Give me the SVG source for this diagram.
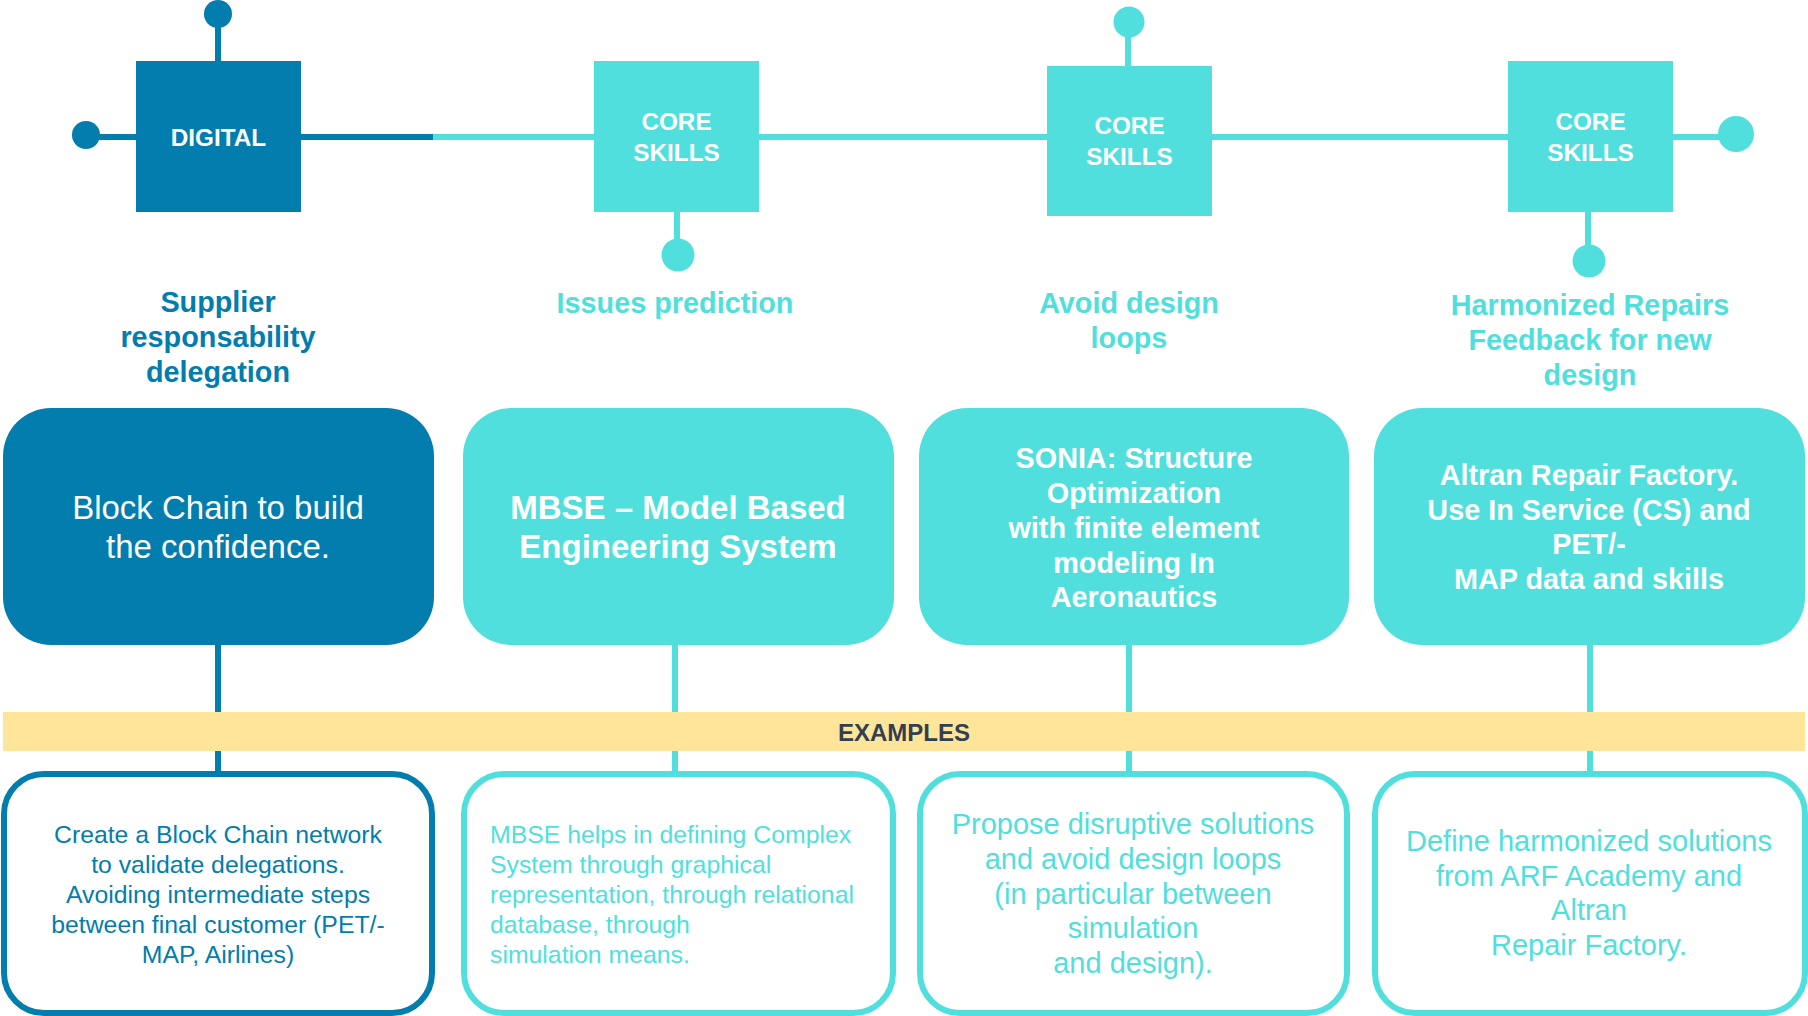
<svg xmlns="http://www.w3.org/2000/svg" width="1808" height="1016" viewBox="0 0 1808 1016">
<style>
text{font-family:"Liberation Sans",Arial,sans-serif;text-anchor:middle}
text.ls{text-anchor:start}
.b{font-weight:bold}
.dk{fill:#027DAE}
.cy{fill:#50DFDD}
.wt{fill:#FFFFFF}
.ldk{stroke:#027DAE;stroke-width:6;fill:none}
.lcy{stroke:#50DFDD;stroke-width:6;fill:none}
.obdk{fill:#FFFFFF;stroke:#027DAE;stroke-width:6}
.obcy{fill:#FFFFFF;stroke:#50DFDD;stroke-width:6}
.sq{font-size:24.3px;font-weight:bold}
.hd{font-size:28.8px;font-weight:bold}
.big{font-size:33px}
.mid{font-size:28.8px;font-weight:bold}
.sm{font-size:24.8px}
.sm2{font-size:29px}
</style>
<rect width="1808" height="1016" fill="#FFFFFF"/>
<g id="connectors">
<line class="ldk" x1="86" y1="137" x2="434" y2="137"/>
<line class="lcy" x1="433" y1="137" x2="1736" y2="137"/>
<line class="ldk" x1="218" y1="14" x2="218" y2="62"/>
<line class="lcy" x1="677" y1="211" x2="677" y2="255"/>
<line class="lcy" x1="1128" y1="22" x2="1128" y2="67"/>
<line class="lcy" x1="1588" y1="211" x2="1588" y2="261"/>
<line class="ldk" x1="218" y1="640" x2="218" y2="774"/>
<line class="lcy" x1="675" y1="640" x2="675" y2="774"/>
<line class="lcy" x1="1129" y1="640" x2="1129" y2="774"/>
<line class="lcy" x1="1590" y1="640" x2="1590" y2="774"/>
<circle class="dk" cx="218" cy="14" r="14"/>
<circle class="dk" cx="86" cy="135" r="14"/>
<circle class="cy" cx="678" cy="255" r="16.5"/>
<circle class="cy" cx="1129" cy="22" r="15.5"/>
<circle class="cy" cx="1589" cy="261" r="16.5"/>
<circle class="cy" cx="1736" cy="134" r="18"/>
</g>
<g id="band">
<rect x="3" y="712" width="1802" height="39" fill="#FFE599"/>
<text x="904" y="741" font-size="24" class="b" fill="#333F50">EXAMPLES</text>
</g>
<g id="sq-digital">
<rect x="136" y="61" width="165" height="151" class="dk"/>
<text x="218.5" y="146" class="sq wt">DIGITAL</text>
</g>
<g id="sq-core1">
<rect x="594" y="61" width="165" height="151" class="cy"/>
<text x="676.5" y="130" class="sq wt">CORE</text>
<text x="676.5" y="161" class="sq wt">SKILLS</text>
</g>
<g id="sq-core2">
<rect x="1047" y="66" width="165" height="150" class="cy"/>
<text x="1129.5" y="134" class="sq wt">CORE</text>
<text x="1129.5" y="165" class="sq wt">SKILLS</text>
</g>
<g id="sq-core3">
<rect x="1508" y="61" width="165" height="151" class="cy"/>
<text x="1590.5" y="130" class="sq wt">CORE</text>
<text x="1590.5" y="161" class="sq wt">SKILLS</text>
</g>
<g id="head1">
<text x="218" y="312" class="hd dk">Supplier</text>
<text x="218" y="347" class="hd dk">responsability</text>
<text x="218" y="382" class="hd dk">delegation</text>
</g>
<g id="head2">
<text x="675" y="313" class="hd cy">Issues prediction</text>
</g>
<g id="head3">
<text x="1129" y="313" class="hd cy">Avoid design</text>
<text x="1129" y="348" class="hd cy">loops</text>
</g>
<g id="head4">
<text x="1590" y="315" class="hd cy">Harmonized Repairs</text>
<text x="1590" y="350" class="hd cy">Feedback for new</text>
<text x="1590" y="385" class="hd cy">design</text>
</g>
<g id="box1">
<rect x="3" y="408" width="431" height="237" rx="48" class="dk"/>
<text x="218" y="519" class="big wt">Block Chain to build</text>
<text x="218" y="558" class="big wt">the confidence.</text>
</g>
<g id="box2">
<rect x="463" y="408" width="431" height="237" rx="48" class="cy"/>
<text x="678" y="519" class="big b wt">MBSE – Model Based</text>
<text x="678" y="558" class="big b wt">Engineering System</text>
</g>
<g id="box3">
<rect x="919" y="408" width="430" height="237" rx="48" class="cy"/>
<text x="1134" y="468" class="mid wt">SONIA: Structure</text>
<text x="1134" y="503" class="mid wt">Optimization</text>
<text x="1134" y="538" class="mid wt">with finite element</text>
<text x="1134" y="573" class="mid wt">modeling In</text>
<text x="1134" y="607" class="mid wt">Aeronautics</text>
</g>
<g id="box4">
<rect x="1374" y="408" width="431" height="237" rx="48" class="cy"/>
<text x="1589" y="485" class="mid wt">Altran Repair Factory.</text>
<text x="1589" y="520" class="mid wt">Use In Service (CS) and</text>
<text x="1589" y="554" class="mid wt">PET/-</text>
<text x="1589" y="589" class="mid wt">MAP data and skills</text>
</g>
<g id="ex1">
<rect x="4" y="774" width="428" height="239" rx="40" class="obdk"/>
<text x="218" y="843" class="sm dk">Create a Block Chain network</text>
<text x="218" y="873" class="sm dk">to validate delegations.</text>
<text x="218" y="903" class="sm dk">Avoiding intermediate steps</text>
<text x="218" y="933" class="sm dk">between final customer (PET/-</text>
<text x="218" y="963" class="sm dk">MAP, Airlines)</text>
</g>
<g id="ex2">
<rect x="464" y="774" width="429" height="239" rx="40" class="obcy"/>
<text x="490" y="843" class="sm cy ls">MBSE helps in defining Complex</text>
<text x="490" y="873" class="sm cy ls">System through graphical</text>
<text x="490" y="903" class="sm cy ls">representation, through relational</text>
<text x="490" y="933" class="sm cy ls">database, through</text>
<text x="490" y="963" class="sm cy ls">simulation means.</text>
</g>
<g id="ex3">
<rect x="920" y="774" width="427" height="239" rx="40" class="obcy"/>
<text x="1133" y="834" class="sm2 cy">Propose disruptive solutions</text>
<text x="1133" y="869" class="sm2 cy">and avoid design loops</text>
<text x="1133" y="904" class="sm2 cy">(in particular between</text>
<text x="1133" y="938" class="sm2 cy">simulation</text>
<text x="1133" y="973" class="sm2 cy">and design).</text>
</g>
<g id="ex4">
<rect x="1375" y="774" width="430" height="239" rx="40" class="obcy"/>
<text x="1589" y="851" class="sm2 cy">Define harmonized solutions</text>
<text x="1589" y="886" class="sm2 cy">from ARF Academy and</text>
<text x="1589" y="920" class="sm2 cy">Altran</text>
<text x="1589" y="955" class="sm2 cy">Repair Factory.</text>
</g>
</svg>
